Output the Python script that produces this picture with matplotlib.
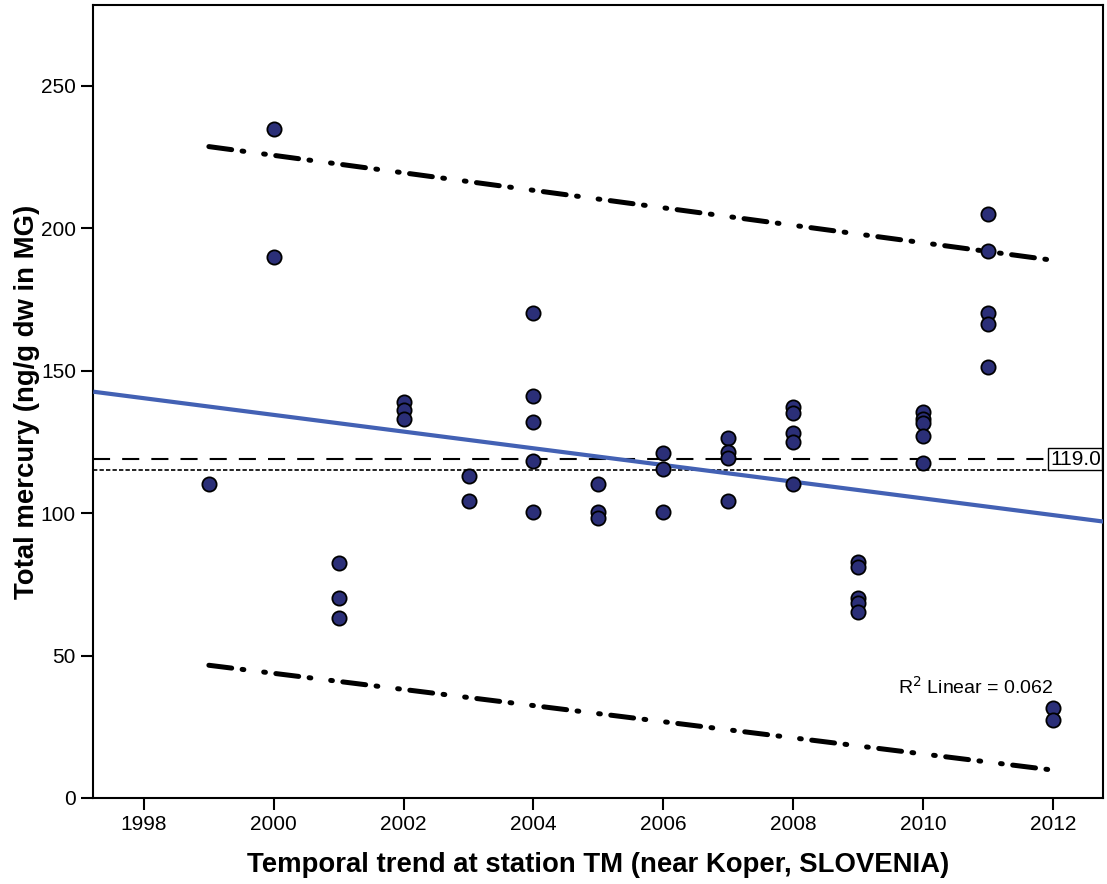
import matplotlib
matplotlib.use("Agg")
import matplotlib.pyplot as plt
import numpy as np

plt.rcParams['font.family'] = ['Liberation Sans', 'DejaVu Sans']

# ---- data ----
years = [1999,
         2000, 2000,
         2001, 2001, 2001,
         2002, 2002, 2002,
         2003, 2003,
         2004, 2004, 2004, 2004, 2004,
         2005, 2005, 2005,
         2006, 2006, 2006,
         2007, 2007, 2007, 2007,
         2008, 2008, 2008, 2008, 2008,
         2009, 2009, 2009, 2009, 2009,
         2010, 2010, 2010, 2010, 2010,
         2011, 2011, 2011, 2011, 2011,
         2012, 2012]
mercury = [110.3,
           234.9, 190.1,
           82.4, 70.3, 63.3,
           139.2, 136.2, 133.1,
           113.2, 104.3,
           170.2, 141.3, 132.1, 118.3, 100.3,
           110.3, 100.5, 98.2,
           121.2, 115.5, 100.3,
           126.3, 121.6, 119.3, 104.4,
           137.4, 135.3, 128.3, 125.1, 110.3,
           83.0, 81.2, 70.1, 68.4, 65.4,
           135.6, 133.0, 131.6, 127.1, 117.7,
           205.1, 192.2, 170.2, 166.3, 151.2,
           31.5, 27.4]

# linear fit (as drawn in the reference)
fit_at_2000 = 134.5
fit_slope = -2.93
r2_linear = 0.062

# prediction interval lines
pi_years = [1999, 2012]
pi_upper = [228.7, 188.8]
pi_lower = [46.6, 9.8]

ref_value = 119.0
ref2_value = 115.0

x_ticks = [1998, 2000, 2002, 2004, 2006, 2008, 2010, 2012]
y_ticks = [0, 50, 100, 150, 200, 250]

# ---- figure ----
fig = plt.figure(figsize=(11.07, 8.84), dpi=100)
ax = fig.add_axes([0.0843, 0.0973, 0.9124, 0.8970])

xlim = (1997.22, 2012.78)
ax.set_xlim(*xlim)
ax.set_ylim(0, 278.4)

# reference lines
ax.axhline(ref_value, color='black', lw=1.5, linestyle=(0, (8.2, 5.8)), zorder=2)
ax.axhline(ref2_value, color='black', lw=1.2, linestyle=(0, (2.6, 1.3)), zorder=2)

# prediction interval lines
pi_style = (0, (4.6, 2.1, 0.35, 4.0, 0.35, 2.1))
for vals in (pi_upper, pi_lower):
    ax.plot(pi_years, vals, color='black', lw=3.6, linestyle=pi_style,
            dash_capstyle='round', solid_capstyle='round', zorder=3)

# fit line across axis
fx = np.array(xlim)
fy = fit_at_2000 + fit_slope * (fx - 2000)
ax.plot(fx, fy, color='#4361B4', lw=3.0, zorder=3, solid_capstyle='butt')

# points
ax.scatter(years, mercury, s=105, facecolor='#2B2F78', edgecolor='black',
           linewidth=1.3, zorder=4)

# label box for reference line
ax.text(0.9975, ref_value, f"{ref_value:.1f}", transform=ax.get_yaxis_transform(),
        ha='right', va='center', fontsize=15,
        bbox=dict(boxstyle='square,pad=0.08', facecolor='white',
                  edgecolor='black', lw=1.0), zorder=5)

ax.text(2009.62, 39, f"R$^2$ Linear = {r2_linear:.3f}", ha='left', va='center',
        fontsize=14)

ax.set_xticks(x_ticks)
ax.set_yticks(y_ticks)
ax.tick_params(axis='both', direction='out', length=8.5, width=1.5,
               labelsize=15, pad=4)

for sp in ax.spines.values():
    sp.set_linewidth(1.5)

ax.set_xlabel("Temporal trend at station TM (near Koper, SLOVENIA)",
              fontsize=19.8, fontweight='bold')
ax.set_ylabel("Total mercury (ng/g dw in MG)", fontsize=19.8, fontweight='bold')
ax.xaxis.label.set_va('center')
ax.yaxis.label.set_va('center')
ax.xaxis.set_label_coords(0.50, -0.0845)
ax.yaxis.set_label_coords(-0.0656, 0.5)

fig.savefig("out.png", dpi=100)
